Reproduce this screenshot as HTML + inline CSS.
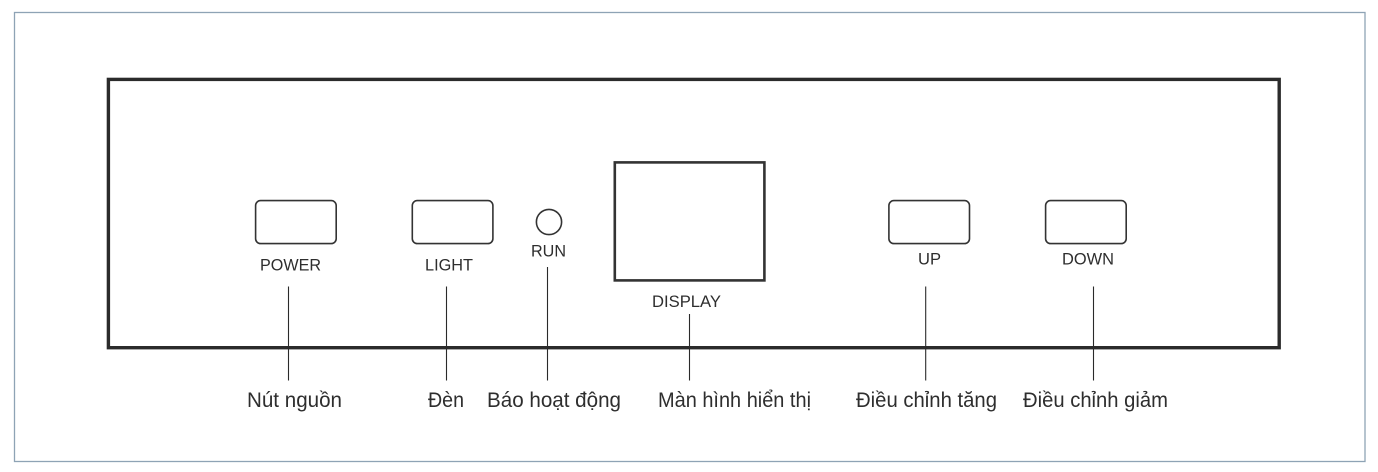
<!DOCTYPE html>
<html lang="vi">
<head>
<meta charset="utf-8">
<title>Control panel</title>
<style>
html,body{margin:0;padding:0;background:#fff;width:1378px;height:472px;overflow:hidden}
svg{display:block}
text{font-family:"Liberation Sans",sans-serif;fill:#2e2e2e}
.s{font-size:16.5px}
.b{font-size:21px}
</style>
</head>
<body>
<svg width="1378" height="472" viewBox="0 0 1378 472" xmlns="http://www.w3.org/2000/svg">
<rect x="0" y="0" width="1378" height="472" fill="#fff"/>
<rect x="14.5" y="12.5" width="1350.5" height="449" fill="none" stroke="#8ea3b5" stroke-width="1.3"/>
<rect x="108.4" y="79.4" width="1170.8" height="268.3" fill="none" stroke="#2b2b2b" stroke-width="3.4"/>
<g fill="none" stroke="#333" stroke-width="1.6">
<rect x="255.6" y="200.6" width="80.6" height="43" rx="5"/>
<rect x="412.3" y="200.6" width="80.6" height="43" rx="5"/>
<rect x="888.9" y="200.6" width="80.6" height="43" rx="5"/>
<rect x="1045.6" y="200.6" width="80.6" height="43" rx="5"/>
<circle cx="549" cy="222" r="12.6"/>
</g>
<rect x="614.8" y="162.4" width="149.6" height="118" fill="none" stroke="#333" stroke-width="2.6"/>
<g stroke="#2a2a2a" stroke-width="1.1" fill="none">
<line x1="288.5" y1="286.5" x2="288.5" y2="380.5"/>
<line x1="446.5" y1="286.5" x2="446.5" y2="380.5"/>
<line x1="547.5" y1="267" x2="547.5" y2="380.5"/>
<line x1="689.5" y1="314" x2="689.5" y2="380.5"/>
<line x1="925.7" y1="286.5" x2="925.7" y2="380.5"/>
<line x1="1093.5" y1="286.5" x2="1093.5" y2="380.5"/>
</g>
<text class="s" x="260" y="270.5" textLength="61" lengthAdjust="spacingAndGlyphs">POWER</text>
<text class="s" x="425" y="270.5" textLength="48" lengthAdjust="spacingAndGlyphs">LIGHT</text>
<text class="s" x="531" y="256.5" textLength="35" lengthAdjust="spacingAndGlyphs">RUN</text>
<text class="s" x="652" y="307" textLength="69" lengthAdjust="spacingAndGlyphs">DISPLAY</text>
<text class="s" x="918" y="264.5" textLength="23" lengthAdjust="spacingAndGlyphs">UP</text>
<text class="s" x="1062" y="264.5" textLength="52" lengthAdjust="spacingAndGlyphs">DOWN</text>
<text class="b" x="247" y="407" textLength="95" lengthAdjust="spacingAndGlyphs">Nút nguồn</text>
<text class="b" x="428" y="407" textLength="36" lengthAdjust="spacingAndGlyphs">Đèn</text>
<text class="b" x="487" y="407" textLength="134" lengthAdjust="spacingAndGlyphs">Báo hoạt động</text>
<text class="b" x="658" y="407" textLength="153" lengthAdjust="spacingAndGlyphs">Màn hình hiển thị</text>
<text class="b" x="856" y="407" textLength="141" lengthAdjust="spacingAndGlyphs">Điều chỉnh tăng</text>
<text class="b" x="1023" y="407" textLength="145" lengthAdjust="spacingAndGlyphs">Điều chỉnh giảm</text>
</svg>
</body>
</html>
